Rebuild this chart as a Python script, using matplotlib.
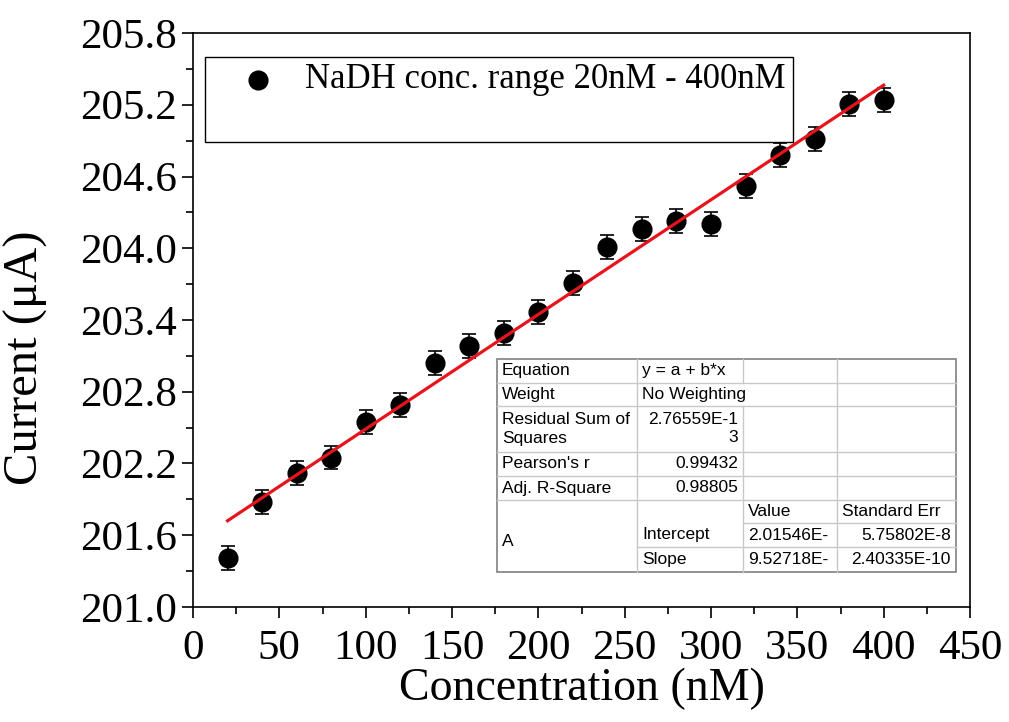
import numpy as np
import matplotlib.pyplot as plt
from matplotlib.patches import Rectangle
from matplotlib.ticker import MultipleLocator

# data
conc = [20, 40, 60, 80, 100, 120, 140, 160, 180, 200,
        220, 240, 260, 280, 300, 320, 340, 360, 380, 400]
current = [201.41, 201.88, 202.12, 202.25, 202.55, 202.69, 203.04, 203.18, 203.29, 203.47,
           203.71, 204.01, 204.16, 204.23, 204.20, 204.52, 204.78, 204.91, 205.21, 205.24]
err = [0.1] * len(conc)
legend_label = 'NaDH conc. range 20nM - 400nM'

# fit table text (rows of cells)
table_rows = [
    ['Equation', 'y = a + b*x', '', ''],
    ['Weight', 'No Weighting', '', ''],
    ['Residual Sum of\nSquares', '2.76559E-1\n3', '', ''],
    ["Pearson's r", '0.99432', '', ''],
    ['Adj. R-Square', '0.98805', '', ''],
    ['', '', 'Value', 'Standard Err'],
    ['', 'Intercept', '2.01546E-', '5.75802E-8'],
    ['', 'Slope', '9.52718E-', '2.40335E-10'],
]

serif = 'Liberation Serif'
W, H = 1009, 722
fig = plt.figure(figsize=(W / 100, H / 100), dpi=100)
ax = fig.add_axes([193 / W, 1 - 607 / H, (970 - 193) / W, (607 - 33) / H])

x = np.array(conc)
y = np.array(current)
ax.errorbar(x, y, yerr=err, fmt='o', color='black', markersize=13.5,
            ecolor='black', elinewidth=1.2, capsize=5, capthick=1.2, zorder=3)
b, a = np.polyfit(x, y, 1)
xf = np.array([x.min(), x.max()])
ax.plot(xf, a + b * xf, color='#e8141b', lw=2.3, zorder=4)

ax.set_xlim(0, 450)
ax.set_ylim(201.0, 205.8)
ax.xaxis.set_major_locator(MultipleLocator(50))
ax.xaxis.set_minor_locator(MultipleLocator(25))
ax.yaxis.set_major_locator(MultipleLocator(0.6))
ax.yaxis.set_minor_locator(MultipleLocator(0.3))
ax.yaxis.set_major_formatter(plt.FormatStrFormatter('%.1f'))
ax.tick_params(which='major', direction='out', length=8, width=1.2, labelsize=31)
ax.tick_params(which='minor', direction='out', length=5, width=1.2)
ax.tick_params(axis='x', pad=8)
for lab in ax.get_xticklabels() + ax.get_yticklabels():
    lab.set_family(serif)
for s in ax.spines.values():
    s.set_linewidth(1.2)
ax.set_xlabel('Concentration (nM)', fontsize=33, family=serif, labelpad=0)
ax.set_ylabel('Current (\u03bcA)', fontsize=35, family=serif)
ax.yaxis.set_label_coords(-0.186, 0.434)

# legend box
def fx(px):
    return px / W

def fy(py):
    return 1 - py / H

fig.patches.append(Rectangle((fx(205), fy(142)), fx(793) - fx(205), fy(57) - fy(142),
                             transform=fig.transFigure, fill=False, ec='black', lw=1.0))
fig.lines.append(plt.Line2D([fx(258)], [fy(80)], marker='o', color='black',
                            markersize=13.5, transform=fig.transFigure))
fig.text(fx(305), fy(80), legend_label, fontsize=25, family=serif, va='center', ha='left')

# fit table
cols = [497, 637, 743, 837, 956]
rows = [359, 383, 406, 452, 476, 500, 523, 547, 572]
grid = '#c8c8c8'
fig.patches.append(Rectangle((fx(cols[0]), fy(rows[-1])), fx(cols[-1]) - fx(cols[0]),
                             fy(rows[0]) - fy(rows[-1]), transform=fig.transFigure,
                             fc='white', ec='#808080', lw=1.2, zorder=5))

def hline(py, x0, x1):
    fig.lines.append(plt.Line2D([fx(x0), fx(x1)], [fy(py), fy(py)], color=grid, lw=1,
                                transform=fig.transFigure, zorder=6))

def vline(px, y0, y1):
    fig.lines.append(plt.Line2D([fx(px), fx(px)], [fy(y0), fy(y1)], color=grid, lw=1,
                                transform=fig.transFigure, zorder=6))

for r in rows[1:6]:
    hline(r, cols[0], cols[-1])
hline(rows[6], cols[2], cols[-1])
hline(rows[7], cols[1], cols[-1])
vline(cols[1], rows[0], rows[-1])
vline(cols[2], rows[0], rows[1])
vline(cols[2], rows[2], rows[-1])
vline(cols[3], rows[0], rows[-1])

sans = 'Liberation Sans'
fs = 12.5
for i, row in enumerate(table_rows):
    yc = (rows[i] + rows[i + 1]) / 2
    for j, txt in enumerate(row):
        if not txt:
            continue
        right = (j == 1 and i in (2, 3, 4)) or (j == 3 and i in (6, 7))
        if right:
            fig.text(fx(cols[j + 1] - 5), fy(yc), txt, fontsize=fs, family=sans,
                     ha='right', va='center', ma='right', linespacing=1.25, zorder=7)
        else:
            fig.text(fx(cols[j] + 5), fy(yc), txt, fontsize=fs, family=sans,
                     ha='left', va='center', linespacing=1.25, zorder=7)
# merged cell "A"
fig.text(fx(cols[0] + 5), fy((rows[5] + rows[-1]) / 2 + 6), 'A', fontsize=fs,
         family=sans, ha='left', va='center', zorder=7)

fig.savefig('out.png', dpi=100)
